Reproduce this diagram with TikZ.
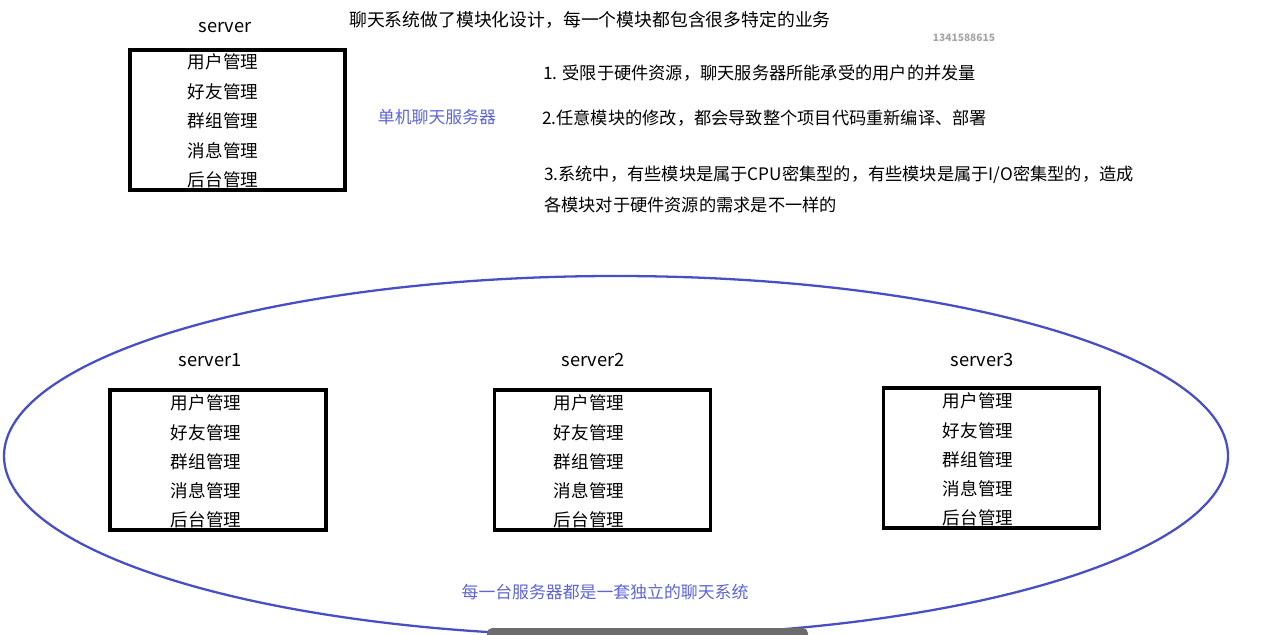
\documentclass[tikz,border=0pt]{standalone}
\usepackage{fontspec}
\setmainfont{Noto Sans CJK SC}
\usepackage{tikz}
\usetikzlibrary{arrows}
\definecolor{ovalblue}{RGB}{72,78,196}
\definecolor{noteblue}{RGB}{92,100,214}

\begin{document}
\begin{tikzpicture}[x=0.02cm,y=-0.02cm,
  title/.style={font=\fontsize{10.15}{12}\selectfont, anchor=west},
  note/.style={font=\fontsize{9.8}{12}\selectfont, anchor=west},
  label/.style={font=\fontsize{10.4}{12}\selectfont},
  item/.style={font=\fontsize{10}{12}\selectfont},
  srvbox/.style={draw, line width=1.8pt},
  blue/.style={text=noteblue, font=\fontsize{9.6}{12}\selectfont}]
  \useasboundingbox (0,0) rectangle (1271,635);
  % single server
  \node [label] (srv) at (225,28) {server};
  \node [srvbox, minimum width=215*0.02cm, minimum height=140*0.02cm] (box) at (237.5,120) {};
  \node [item] (m1) at (223,62) {用户管理};
  \node [item] (m2) at (223,92) {好友管理};
  \node [item] (m3) at (223,121) {群组管理};
  \node [item] (m4) at (223,151) {消息管理};
  \node [item] (m5) at (223,180) {后台管理};
  \node [title] (head) at (343,20) {聊天系统做了模块化设计，每一个模块都包含很多特定的业务};
  \node [font=\fontsize{5.8}{7}\selectfont\bfseries, text=gray!70] (qq) at (964,38) {1341588615};
  \node [blue] (single) at (437,117) {单机聊天服务器};
  \node [note] (p1) at (537,73) {1. 受限于硬件资源，聊天服务器所能承受的用户的并发量};
  \node [note] (p2) at (536,118) {2.任意模块的修改，都会导致整个项目代码重新编译、部署};
  \node [note] (p3) at (538,175) {3.系统中，有些模块是属于CPU密集型的，有些模块是属于I/O密集型的，造成};
  \node [note] (p4) at (538,205) {各模块对于硬件资源的需求是不一样的};
  % cluster
  \draw [ovalblue, line width=1.3pt] (616,456) ellipse [x radius=612, y radius=180];
  \foreach \n/\cx/\tx/\ty in {1/218/206/390, 2/602.5/589/390, 3/991.5/978/388} {
    \node [label] (srv\n) at (\tx+4,360) {server\n};
    \node [srvbox, minimum width=216*0.02cm, minimum height=140*0.02cm] (box\n) at (\cx,\ty+70) {};
    \node [item] (a\n) at (\tx,\ty+13) {用户管理};
    \node [item] (b\n) at (\tx,\ty+43) {好友管理};
    \node [item] (c\n) at (\tx,\ty+72) {群组管理};
    \node [item] (d\n) at (\tx,\ty+101) {消息管理};
    \node [item] (e\n) at (\tx,\ty+130) {后台管理};
  }
  \node [blue] (each) at (605,592) {每一台服务器都是一套独立的聊天系统};
  \fill [gray!85!black, rounded corners=3pt] (487,628) rectangle (808,645);
\end{tikzpicture}
\end{document}
